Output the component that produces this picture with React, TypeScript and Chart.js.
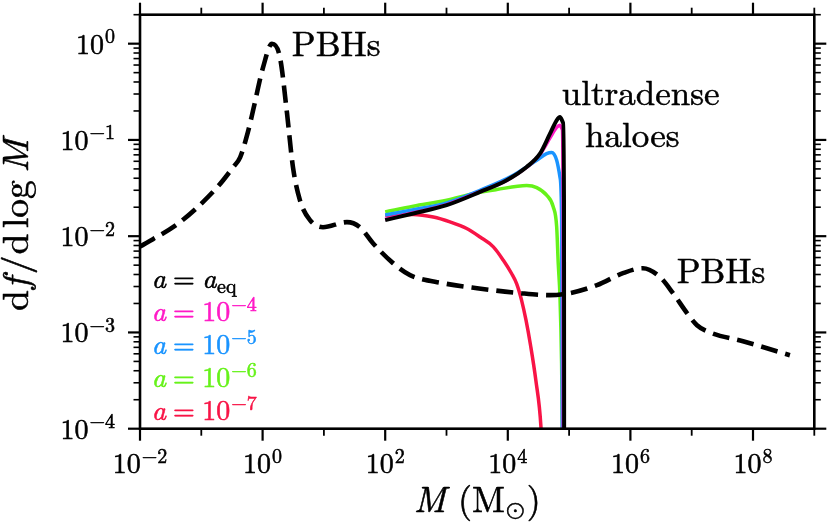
import React, { useEffect, useRef } from "react";
import { Chart, registerables } from "chart.js";

Chart.register(...registerables);

// ---- data ----
const pbhMass = [0.01, 0.045, 0.18, 0.33, 0.43, 0.578, 0.7, 1.02, 1.42, 1.92, 2.5, 3.13, 4.07, 5.93, 9.66, 23.8, 38.8, 63.2, 134, 254, 877, 3150, 15800, 48800, 103000, 285000, 757000, 1.6e6, 3.04e6, 4.95e6, 8.38e6, 1.22e7, 1.99e7, 6.87e7, 4.0e8];
const pbhFraction = [7.8e-3, 0.014, 0.032, 0.052, 0.066, 0.122, 0.203, 0.57, 1.0, 0.72, 0.19, 0.052, 0.0236, 0.0147, 0.0124, 0.014, 0.0124, 8.45e-3, 5.25e-3, 3.94e-3, 3.25e-3, 2.88e-3, 2.56e-3, 2.44e-3, 2.56e-3, 3.1e-3, 4.13e-3, 4.65e-3, 3.76e-3, 2.56e-3, 1.59e-3, 1.19e-3, 1.0e-3, 8.1e-4, 5.8e-4];

const aeqMass = [100, 288, 1007, 3520, 9590, 20300, 33500, 48800, 62700, 71000, 80000, 82600, 83000];
const aeqFraction = [0.0147, 0.0172, 0.021, 0.0288, 0.0381, 0.0524, 0.072, 0.116, 0.16, 0.173, 0.15, 0.02, 5e-5];

const a1e4Mass = [100, 288, 1007, 3520, 9590, 20300, 33500, 48800, 62700, 71000, 77000, 80000, 80500];
const a1e4Fraction = [0.015, 0.0175, 0.0213, 0.029, 0.038, 0.052, 0.071, 0.105, 0.135, 0.142, 0.13, 0.02, 5e-5];

const a1e5Mass = [100, 288, 1007, 3520, 12300, 29600, 43000, 52000, 62700, 71000, 75500, 77500];
const a1e5Fraction = [0.0166, 0.0188, 0.0222, 0.03, 0.043, 0.0615, 0.072, 0.074, 0.0615, 0.041, 0.015, 5e-5];

const a1e6Mass = [100, 288, 1007, 2740, 6590, 20300, 29600, 43000, 55200, 62700, 66500, 71000, 75400, 78500];
const a1e6Fraction = [0.0179, 0.0205, 0.0236, 0.0277, 0.0305, 0.0336, 0.032, 0.0267, 0.0201, 0.0125, 5.2e-3, 2.34e-3, 4.8e-4, 5e-5];

const a1e7Mass = [100, 288, 610, 1140, 2136, 3524, 5808, 8456, 11590, 13970, 16750, 19820, 23460, 28630, 34750, 36500];
const a1e7Fraction = [0.0165, 0.0168, 0.0158, 0.01406, 0.012, 9.8e-3, 7.75e-3, 5.62e-3, 4.07e-3, 3.2e-3, 2.17e-3, 1.34e-3, 7.4e-4, 3.2e-4, 1.04e-4, 5e-5];

// axes
const xDecades = [-2, -1, 0, 1, 2, 3, 4, 5, 6, 7, 8, 9];
const xLabelDecades = [-2, 0, 2, 4, 6, 8];
const yDecades = [-4, -3, -2, -1, 0];
const yMinorMultipliers = [2, 3, 4, 5, 6, 7, 8, 9];

// annotations (anchor in data coordinates, left/baseline)
const annotationTexts = ["PBHs", "ultradense", "haloes", "PBHs"];
const annotationMass = [3.0, 7.6e4, 1.82e5, 5.7e6];
const annotationFraction = [0.74, 0.229, 0.0845, 3.23e-3];

// legend
const legendExponents = ["4", "5", "6", "7"];
const COLORS = {
  black: "#000000",
  magenta: "#ff1ac6",
  blue: "#1a94ff",
  green: "#66f21a",
  red: "#f81446",
};
const legendColors = [COLORS.magenta, COLORS.blue, COLORS.green, COLORS.red];

// ---- text helpers ----
const SERIF = "'Latin Modern Roman', 'Liberation Serif', serif";
const MATHSYM = "'Latin Modern Math', 'Latin Modern Roman', 'DejaVu Serif', serif";
const SYMBOL = "'Latin Modern Math', 'DejaVu Sans', sans-serif";
const MINUS = "\u2212";

type Run = { t: string; size: number; italic?: boolean; dy?: number; fam?: string; gap?: number };

function fontOf(r: Run) {
  return `${r.italic ? "italic " : ""}${r.size}px ${r.fam ?? SERIF}`;
}
function measureRuns(ctx: CanvasRenderingContext2D, runs: Run[]) {
  let w = 0;
  for (const r of runs) {
    ctx.font = fontOf(r);
    w += (r.gap ?? 0) + ctx.measureText(r.t).width;
  }
  return w;
}
function drawRuns(
  ctx: CanvasRenderingContext2D,
  runs: Run[],
  x: number,
  y: number,
  align: "left" | "center" | "right",
  color: string
) {
  const w = measureRuns(ctx, runs);
  let cx = align === "left" ? x : align === "center" ? x - w / 2 : x - w;
  ctx.fillStyle = color;
  ctx.strokeStyle = color;
  ctx.lineWidth = 0.55;
  ctx.lineJoin = "round";
  ctx.textAlign = "left";
  ctx.textBaseline = "alphabetic";
  for (const r of runs) {
    cx += r.gap ?? 0;
    ctx.font = fontOf(r);
    ctx.fillText(r.t, cx, y + (r.dy ?? 0));
    ctx.strokeText(r.t, cx, y + (r.dy ?? 0));
    cx += ctx.measureText(r.t).width;
  }
}
function powerRuns(exp: number, base: number, sup: number, raise: number): Run[] {
  const runs: Run[] = [{ t: "10", size: base }];
  if (exp < 0) {
    runs.push({ t: MINUS, size: sup, fam: MATHSYM, dy: -raise, gap: 1 });
    runs.push({ t: String(-exp), size: sup, dy: -raise });
  } else {
    runs.push({ t: String(exp), size: sup, dy: -raise, gap: 1 });
  }
  return runs;
}

const decorPlugin = {
  id: "decor",
  afterDraw(chart: any) {
    const { ctx, chartArea: a } = chart;
    const xs = chart.scales.x;
    const ys = chart.scales.y;
    ctx.save();
    ctx.lineCap = "butt";

    const seg = (x1: number, y1: number, x2: number, y2: number, w: number) => {
      ctx.strokeStyle = "#000";
      ctx.lineWidth = w;
      ctx.beginPath();
      ctx.moveTo(x1, y1);
      ctx.lineTo(x2, y2);
      ctx.stroke();
    };

    // x ticks (bottom and top, outward)
    for (const e of xDecades) {
      const px = xs.getPixelForValue(Math.pow(10, e));
      const major = xLabelDecades.includes(e);
      const len = major ? 12 : 7;
      const w = major ? 2.2 : 1.8;
      seg(px, a.bottom, px, a.bottom + len, w);
      seg(px, a.top, px, a.top - len, w);
    }
    // y ticks (left and right, outward)
    for (const e of yDecades) {
      const py = ys.getPixelForValue(Math.pow(10, e));
      seg(a.left - 12, py, a.left, py, 2.2);
      seg(a.right, py, a.right + 12, py, 2.2);
      for (const m of yMinorMultipliers) {
        const v = m * Math.pow(10, e);
        if (v > ys.max) continue;
        const q = ys.getPixelForValue(v);
        seg(a.left - 6.5, q, a.left, q, 1.6);
        seg(a.right, q, a.right + 6.5, q, 1.6);
      }
    }

    // frame
    ctx.strokeStyle = "#000";
    ctx.lineWidth = 2.6;
    ctx.strokeRect(a.left, a.top, a.right - a.left, a.bottom - a.top);

    // x tick labels
    for (const e of xLabelDecades) {
      const px = xs.getPixelForValue(Math.pow(10, e));
      drawRuns(ctx, powerRuns(e, 28, 20, 10), px, a.bottom + 44.6, "center", "#000");
    }
    // y tick labels
    for (const e of yDecades) {
      const py = ys.getPixelForValue(Math.pow(10, e));
      drawRuns(ctx, powerRuns(e, 28, 20, 10.5), a.left - 25, py + 10, "right", "#000");
    }

    // axis titles
    const xTitle: Run[] = [
      { t: "M", size: 36, italic: true },
      { t: "(", size: 36, gap: 12 },
      { t: "M", size: 36 },
      { t: "\u2299", size: 24, fam: SYMBOL, dy: 5, gap: 1 },
      { t: ")", size: 36, gap: 2 },
    ];
    drawRuns(ctx, xTitle, (a.left + a.right) / 2, 512, "center", "#000");

    const yTitle: Run[] = [
      { t: "d", size: 36 },
      { t: "f", size: 36, italic: true, gap: 1 },
      { t: "/", size: 36, gap: 3 },
      { t: "d", size: 36, gap: 1 },
      { t: "log", size: 36, gap: 5 },
      { t: "M", size: 36, italic: true, gap: 7 },
    ];
    ctx.save();
    ctx.translate(28, 225);
    ctx.rotate(-Math.PI / 2);
    const yw = measureRuns(ctx, yTitle);
    const fit = Math.min(1.15, Math.max(0.8, 172 / yw));
    ctx.scale(fit, 1);
    drawRuns(ctx, yTitle, 0, 0, "center", "#000");
    ctx.restore();

    // annotations
    annotationTexts.forEach((t, i) => {
      const px = xs.getPixelForValue(annotationMass[i]);
      const py = ys.getPixelForValue(annotationFraction[i]);
      drawRuns(ctx, [{ t, size: 35 }], px, py, "left", "#000");
    });

    // legend (colored math text)
    const lx = a.left + 11.7;
    const baselines = [140.4, 107.7, 74.4, 42, 8.7].map((d) => a.bottom - d);
    drawRuns(
      ctx,
      [
        { t: "a", size: 28, italic: true },
        { t: "=", size: 28, fam: MATHSYM, gap: 7 },
        { t: "a", size: 28, italic: true, gap: 7.5 },
        { t: "eq", size: 20, dy: 5, gap: 0.5 },
      ],
      lx,
      baselines[0],
      "left",
      COLORS.black
    );
    legendExponents.forEach((ex, i) => {
      drawRuns(
        ctx,
        [
          { t: "a", size: 28, italic: true },
          { t: "=", size: 28, fam: MATHSYM, gap: 7 },
          { t: "10", size: 28, gap: 7.5 },
          { t: MINUS, size: 20, fam: MATHSYM, dy: -10, gap: 1 },
          { t: ex, size: 20, dy: -10 },
        ],
        lx,
        baselines[i + 1],
        "left",
        legendColors[i]
      );
    });

    ctx.restore();
  },
};

function series(mass: number[], frac: number[]) {
  return mass.map((m, i) => ({ x: m, y: frac[i] }));
}

export default function App() {
  const ref = useRef<HTMLCanvasElement>(null);
  useEffect(() => {
    const canvas = ref.current;
    if (!canvas) return;
    const common = {
      pointRadius: 0,
      fill: false,
      cubicInterpolationMode: "monotone" as const,
      borderCapStyle: "butt" as const,
      borderJoinStyle: "round" as const,
    };
    const chart = new Chart(canvas, {
      type: "line",
      data: {
        datasets: [
          { label: "PBHs", data: series(pbhMass, pbhFraction), borderColor: COLORS.black, borderWidth: 4.6, borderDash: [17, 8], ...common },
          { label: "a = a_eq", data: series(aeqMass, aeqFraction), borderColor: COLORS.black, borderWidth: 4, ...common },
          { label: "a = 1e-4", data: series(a1e4Mass, a1e4Fraction), borderColor: COLORS.magenta, borderWidth: 3.5, ...common },
          { label: "a = 1e-5", data: series(a1e5Mass, a1e5Fraction), borderColor: COLORS.blue, borderWidth: 3.5, ...common },
          { label: "a = 1e-6", data: series(a1e6Mass, a1e6Fraction), borderColor: COLORS.green, borderWidth: 3.5, ...common },
          { label: "a = 1e-7", data: series(a1e7Mass, a1e7Fraction), borderColor: COLORS.red, borderWidth: 3.5, ...common },
        ],
      },
      options: {
        animation: false,
        responsive: false,
        devicePixelRatio: 1,
        layout: { padding: { left: 140, right: 14.7, top: 14.7, bottom: 102.3 } },
        scales: {
          x: { type: "logarithmic", min: 1e-2, max: 1e9, display: false },
          y: { type: "logarithmic", min: 1e-4, max: 2, display: false },
        },
        plugins: { legend: { display: false }, tooltip: { enabled: false } },
      },
      plugins: [decorPlugin],
    } as any);
    return () => chart.destroy();
  }, []);
  return (
    <div style={{ position: "absolute", left: 0, top: 0, width: 829, height: 531, background: "#fff" }}>
      <canvas ref={ref} width={829} height={531} style={{ display: "block", width: 829, height: 531 }} />
    </div>
  );
}
